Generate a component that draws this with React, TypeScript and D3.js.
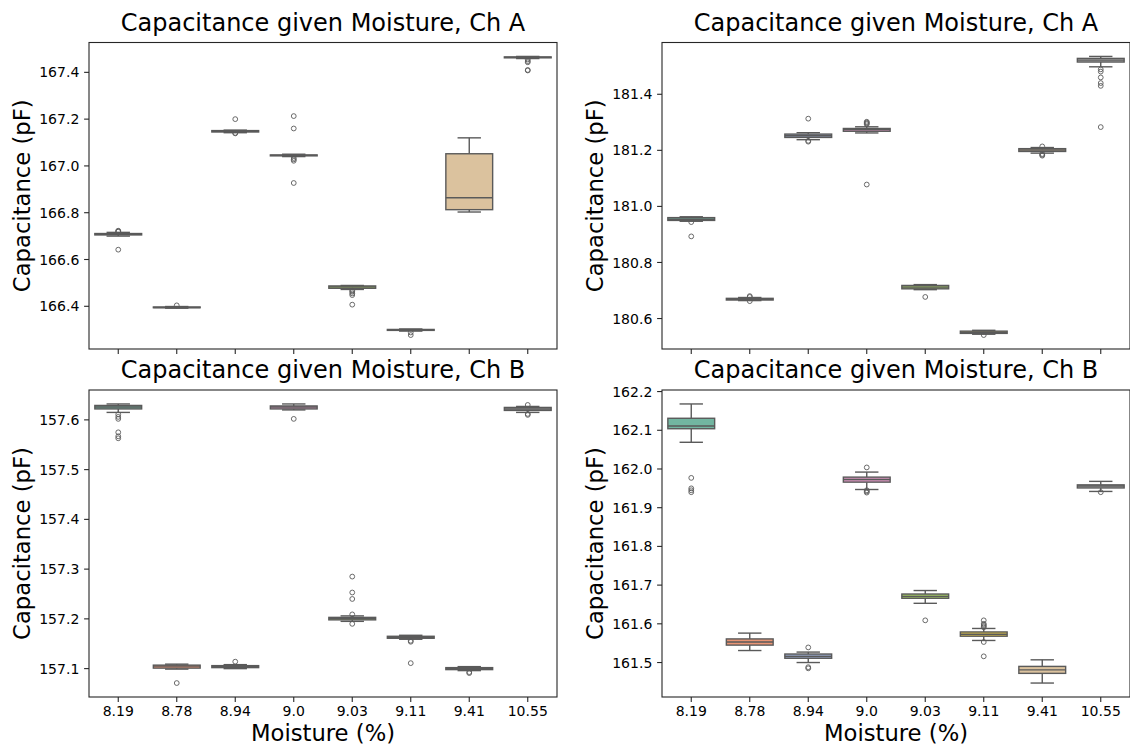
import React from "react";
import * as d3 from "d3";

type Box = { q1: number; med: number; q3: number; lo: number; hi: number; fliers: number[] };

const categories = ["8.19", "8.78", "8.94", "9.0", "9.03", "9.11", "9.41", "10.55"];
const palette = ["#72b6a1", "#e99575", "#95a3c3", "#db96c0", "#a2c764", "#e5c849", "#dbc29e", "#b3b3b3"];

const chAFirst: Box[] = [
  { q1: 166.705, med: 166.709, q3: 166.711, lo: 166.700, hi: 166.716, fliers: [166.719, 166.721, 166.723, 166.642] },
  { q1: 166.394, med: 166.395, q3: 166.397, lo: 166.392, hi: 166.399, fliers: [166.404] },
  { q1: 167.145, med: 167.149, q3: 167.151, lo: 167.142, hi: 167.153, fliers: [167.2, 167.141, 167.139] },
  { q1: 167.043, med: 167.045, q3: 167.047, lo: 167.040, hi: 167.050, fliers: [167.213, 167.16, 167.034, 167.028, 167.022, 166.927] },
  { q1: 166.477, med: 166.483, q3: 166.487, lo: 166.472, hi: 166.489, fliers: [166.467, 166.462, 166.455, 166.448, 166.407] },
  { q1: 166.297, med: 166.299, q3: 166.301, lo: 166.294, hi: 166.303, fliers: [166.288, 166.277] },
  { q1: 166.813, med: 166.864, q3: 167.052, lo: 166.803, hi: 167.12, fliers: [] },
  { q1: 167.462, med: 167.464, q3: 167.466, lo: 167.459, hi: 167.468, fliers: [167.455, 167.448, 167.443, 167.41, 167.408] },
];

const chASecond: Box[] = [
  { q1: 180.950, med: 180.954, q3: 180.960, lo: 180.947, hi: 180.963, fliers: [180.944, 180.893] },
  { q1: 180.666, med: 180.669, q3: 180.672, lo: 180.664, hi: 180.675, fliers: [180.68, 180.677, 180.662] },
  { q1: 181.246, med: 181.252, q3: 181.258, lo: 181.238, hi: 181.263, fliers: [181.313, 181.234, 181.231] },
  { q1: 181.268, med: 181.274, q3: 181.278, lo: 181.262, hi: 181.284, fliers: [181.302, 181.299, 181.296, 181.293, 181.078] },
  { q1: 180.706, med: 180.712, q3: 180.718, lo: 180.703, hi: 180.721, fliers: [180.677] },
  { q1: 180.547, med: 180.551, q3: 180.555, lo: 180.544, hi: 180.558, fliers: [180.541] },
  { q1: 181.196, med: 181.201, q3: 181.206, lo: 181.190, hi: 181.210, fliers: [181.214, 181.187, 181.184, 181.181] },
  { q1: 181.515, med: 181.522, q3: 181.528, lo: 181.498, hi: 181.535, fliers: [181.489, 181.481, 181.46, 181.44, 181.43, 181.283] },
];

const chBFirst: Box[] = [
  { q1: 157.622, med: 157.626, q3: 157.629, lo: 157.615, hi: 157.632, fliers: [157.611, 157.606, 157.602, 157.575, 157.567, 157.563] },
  { q1: 157.101, med: 157.105, q3: 157.107, lo: 157.099, hi: 157.109, fliers: [157.071] },
  { q1: 157.102, med: 157.104, q3: 157.106, lo: 157.100, hi: 157.108, fliers: [157.114] },
  { q1: 157.622, med: 157.626, q3: 157.628, lo: 157.620, hi: 157.632, fliers: [157.602] },
  { q1: 157.198, med: 157.2005, q3: 157.203, lo: 157.195, hi: 157.206, fliers: [157.285, 157.253, 157.24, 157.209, 157.19] },
  { q1: 157.161, med: 157.163, q3: 157.165, lo: 157.159, hi: 157.167, fliers: [157.156, 157.154, 157.111] },
  { q1: 157.098, med: 157.100, q3: 157.102, lo: 157.096, hi: 157.104, fliers: [157.093, 157.091] },
  { q1: 157.619, med: 157.622, q3: 157.625, lo: 157.615, hi: 157.627, fliers: [157.63, 157.612, 157.61] },
];

const chBSecond: Box[] = [
  { q1: 162.104, med: 162.111, q3: 162.131, lo: 162.069, hi: 162.168, fliers: [161.977, 161.95, 161.945, 161.94] },
  { q1: 161.545, med: 161.553, q3: 161.561, lo: 161.531, hi: 161.576, fliers: [] },
  { q1: 161.511, med: 161.516, q3: 161.522, lo: 161.500, hi: 161.527, fliers: [161.539, 161.488, 161.485] },
  { q1: 161.966, med: 161.973, q3: 161.979, lo: 161.947, hi: 161.992, fliers: [162.004, 161.945, 161.942, 161.939] },
  { q1: 161.666, med: 161.671, q3: 161.677, lo: 161.653, hi: 161.686, fliers: [161.609] },
  { q1: 161.568, med: 161.573, q3: 161.579, lo: 161.557, hi: 161.588, fliers: [161.609, 161.6, 161.597, 161.594, 161.591, 161.553, 161.516] },
  { q1: 161.472, med: 161.481, q3: 161.490, lo: 161.447, hi: 161.507, fliers: [] },
  { q1: 161.951, med: 161.956, q3: 161.959, lo: 161.942, hi: 161.968, fliers: [161.94] },
];

const ticksAFirst = [166.4, 166.6, 166.8, 167.0, 167.2, 167.4];
const ticksASecond = [180.6, 180.8, 181.0, 181.2, 181.4];
const ticksBFirst = [157.1, 157.2, 157.3, 157.4, 157.5, 157.6];
const ticksBSecond = [161.5, 161.6, 161.7, 161.8, 161.9, 162.0, 162.1, 162.2];

const titleA = "Capacitance given Moisture, Ch A";
const titleB = "Capacitance given Moisture, Ch B";
const yLabel = "Capacitance (pF)";
const xLabel = "Moisture (%)";

const FONT = "DejaVu Sans, Liberation Sans, sans-serif";
const LINE = "#5a5a5a";
const SPINE = "#262626";

type PanelProps = {
  x0: number; y0: number; w: number; h: number;
  boxes: Box[]; ticks: number[]; title: string; showXLabels: boolean;
};

function Panel({ x0, y0, w, h, boxes, ticks, title, showXLabels }: PanelProps) {
  const x = d3.scaleBand<string>().domain(categories).range([x0, x0 + w]).padding(0);
  const all = boxes.flatMap((b) => [b.lo, b.hi, b.q1, b.q3, ...b.fliers]);
  const mn = d3.min(all) as number;
  const mx = d3.max(all) as number;
  const pad = (mx - mn) * 0.05;
  const y = d3.scaleLinear().domain([mn - pad, mx + pad]).range([y0 + h, y0]);
  const bw = x.bandwidth() * 0.8;
  const capW = bw / 2;
  const tickLen = 4.9;
  const fmt = d3.format(".1f");

  return (
    <g>
      <text x={x0 + w / 2} y={y0 - 12} textAnchor="middle" fontSize={24} fontFamily={FONT} fill="#000">
        {title}
      </text>
      {boxes.map((b, i) => {
        const cx = (x(categories[i]) as number) + x.bandwidth() / 2;
        const c = palette[i];
        return (
          <g key={i}>
            <line x1={cx} x2={cx} y1={y(b.q1)} y2={y(b.lo)} stroke={LINE} strokeWidth={1.4} />
            <line x1={cx} x2={cx} y1={y(b.q3)} y2={y(b.hi)} stroke={LINE} strokeWidth={1.4} />
            <line x1={cx - capW / 2} x2={cx + capW / 2} y1={y(b.lo)} y2={y(b.lo)} stroke={LINE} strokeWidth={1.4} />
            <line x1={cx - capW / 2} x2={cx + capW / 2} y1={y(b.hi)} y2={y(b.hi)} stroke={LINE} strokeWidth={1.4} />
            <rect
              x={cx - bw / 2}
              y={y(b.q3)}
              width={bw}
              height={Math.max(0, y(b.q1) - y(b.q3))}
              fill={c}
              stroke={LINE}
              strokeWidth={1.4}
            />
            <line x1={cx - bw / 2} x2={cx + bw / 2} y1={y(b.med)} y2={y(b.med)} stroke={LINE} strokeWidth={1.4} />
            {b.fliers.map((f, j) => (
              <circle key={j} cx={cx} cy={y(f)} r={2.4} fill="none" stroke={LINE} strokeWidth={0.9} />
            ))}
          </g>
        );
      })}
      <rect x={x0} y={y0} width={w} height={h} fill="none" stroke={SPINE} strokeWidth={1.1} />
      {ticks.map((t) => (
        <g key={t}>
          <line x1={x0 - tickLen} x2={x0} y1={y(t)} y2={y(t)} stroke={SPINE} strokeWidth={1.1} />
          <text x={x0 - 9.7} y={y(t)} dy="0.36em" textAnchor="end" fontSize={14} fontFamily={FONT} fill="#000">
            {fmt(t)}
          </text>
        </g>
      ))}
      {categories.map((cat) => {
        const cx = (x(cat) as number) + x.bandwidth() / 2;
        return (
          <g key={cat}>
            <line x1={cx} x2={cx} y1={y0 + h} y2={y0 + h + tickLen} stroke={SPINE} strokeWidth={1.1} />
            {showXLabels && (
              <text x={cx} y={y0 + h + 19} textAnchor="middle" fontSize={14} fontFamily={FONT} fill="#000">
                {cat}
              </text>
            )}
          </g>
        );
      })}
      <text
        transform={`translate(${x0 - 59.5},${y0 + h / 2}) rotate(-90)`}
        textAnchor="middle"
        fontSize={22.7}
        fontFamily={FONT}
        fill="#000"
      >
        {yLabel}
      </text>
      {showXLabels && (
        <text x={x0 + w / 2} y={y0 + h + 44} textAnchor="middle" fontSize={22.7} fontFamily={FONT} fill="#000">
          {xLabel}
        </text>
      )}
    </g>
  );
}

export default function App() {
  const W = 1130;
  const H = 751;
  const leftX = 89;
  const rightX = 662;
  const pw = 468;
  const topY = 42.5;
  const botY = 390;
  const ph = 307;
  return (
    <svg
      width={W}
      height={H}
      viewBox={`0 0 ${W} ${H}`}
      style={{ position: "absolute", left: 0, top: 0, background: "#fff" }}
    >
      <rect x={0} y={0} width={W} height={H} fill="#fff" />
      <Panel x0={leftX} y0={topY} w={pw} h={ph - 0.5} boxes={chAFirst} ticks={ticksAFirst} title={titleA} showXLabels={false} />
      <Panel x0={rightX} y0={topY} w={pw} h={ph - 0.5} boxes={chASecond} ticks={ticksASecond} title={titleA} showXLabels={false} />
      <Panel x0={leftX} y0={botY} w={pw} h={ph} boxes={chBFirst} ticks={ticksBFirst} title={titleB} showXLabels={true} />
      <Panel x0={rightX} y0={botY} w={pw} h={ph} boxes={chBSecond} ticks={ticksBSecond} title={titleB} showXLabels={true} />
    </svg>
  );
}
